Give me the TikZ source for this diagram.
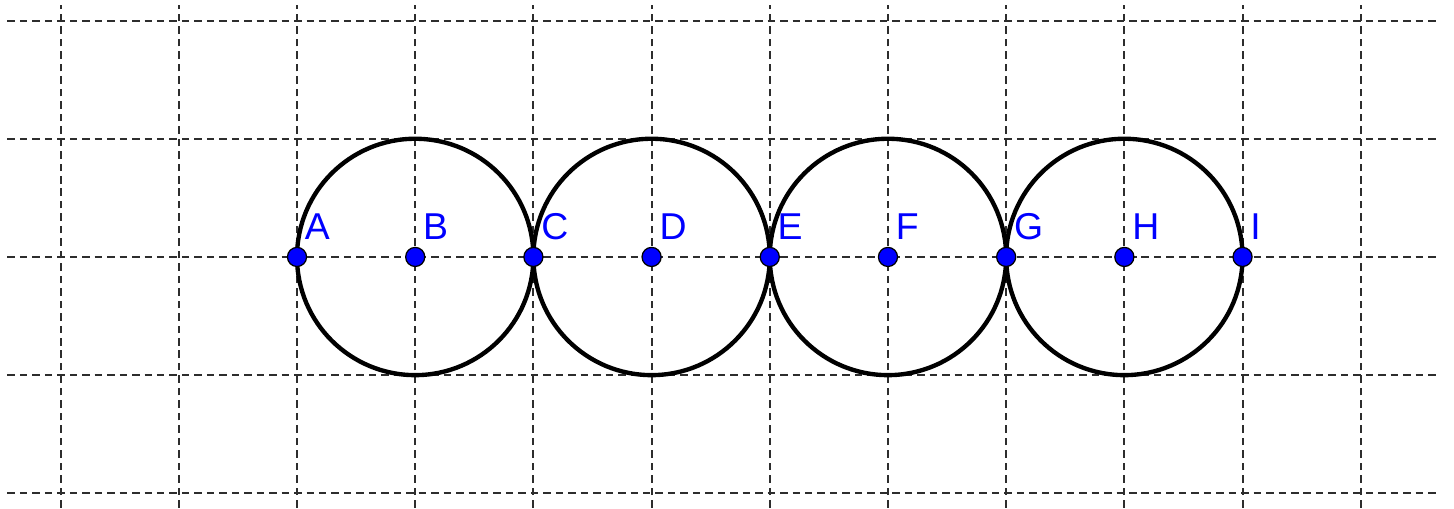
\documentclass[tikz,border=0pt]{standalone}
\usepackage{fontspec}
\setmainfont{Liberation Sans}
\usepackage{xcolor}
\usetikzlibrary{positioning, calc}
\definecolor{gridgray}{RGB}{45,45,45}
\definecolor{ptblue}{RGB}{0,0,255}
\tikzset{
  gridline/.style={draw=gridgray, line width=0.5pt, dash pattern=on 1.8pt off 1.2pt},
  circ/.style={draw=black, line width=1.05pt},
  dot/.style={circle, draw=black, fill=ptblue, line width=0.3pt, inner sep=0pt, minimum size=4.6pt},
  lbl/.style={anchor=base west, inner sep=0pt, text=ptblue, font=\fontsize{9}{10}\selectfont}
}
\begin{document}
\begin{tikzpicture}
  \useasboundingbox (-2.513,-2.132) rectangle (9.789,2.174);
  % dashed grid
  \foreach \x in {-2,...,9} {
    \draw [gridline] (\x,-2.12) -- (\x,2.13);
  }
  \foreach \y in {-2,...,2} {
    \draw [gridline] (-2.45,\y) -- (9.67,\y);
  }

  % points on the line
  \foreach \n [count=\i from 0] in {A,B,C,D,E,F,G,H,I} {
    \coordinate (\n) at (\i,0);
  }

  % circles round B, D, F, H
  \draw [circ] (B) circle (1);
  \draw [circ] (D) circle (1);
  \draw [circ] (F) circle (1);
  \draw [circ] (H) circle (1);

  % dots and labels
  \foreach \n in {A,B,C,D,E,F,G,H,I} {
    \node [dot] (d\n) at (\n) {};
    \node [lbl] (l\n) at ($(\n)+(0.06,0.145)$) {\n};
  }
\end{tikzpicture}
\end{document}
